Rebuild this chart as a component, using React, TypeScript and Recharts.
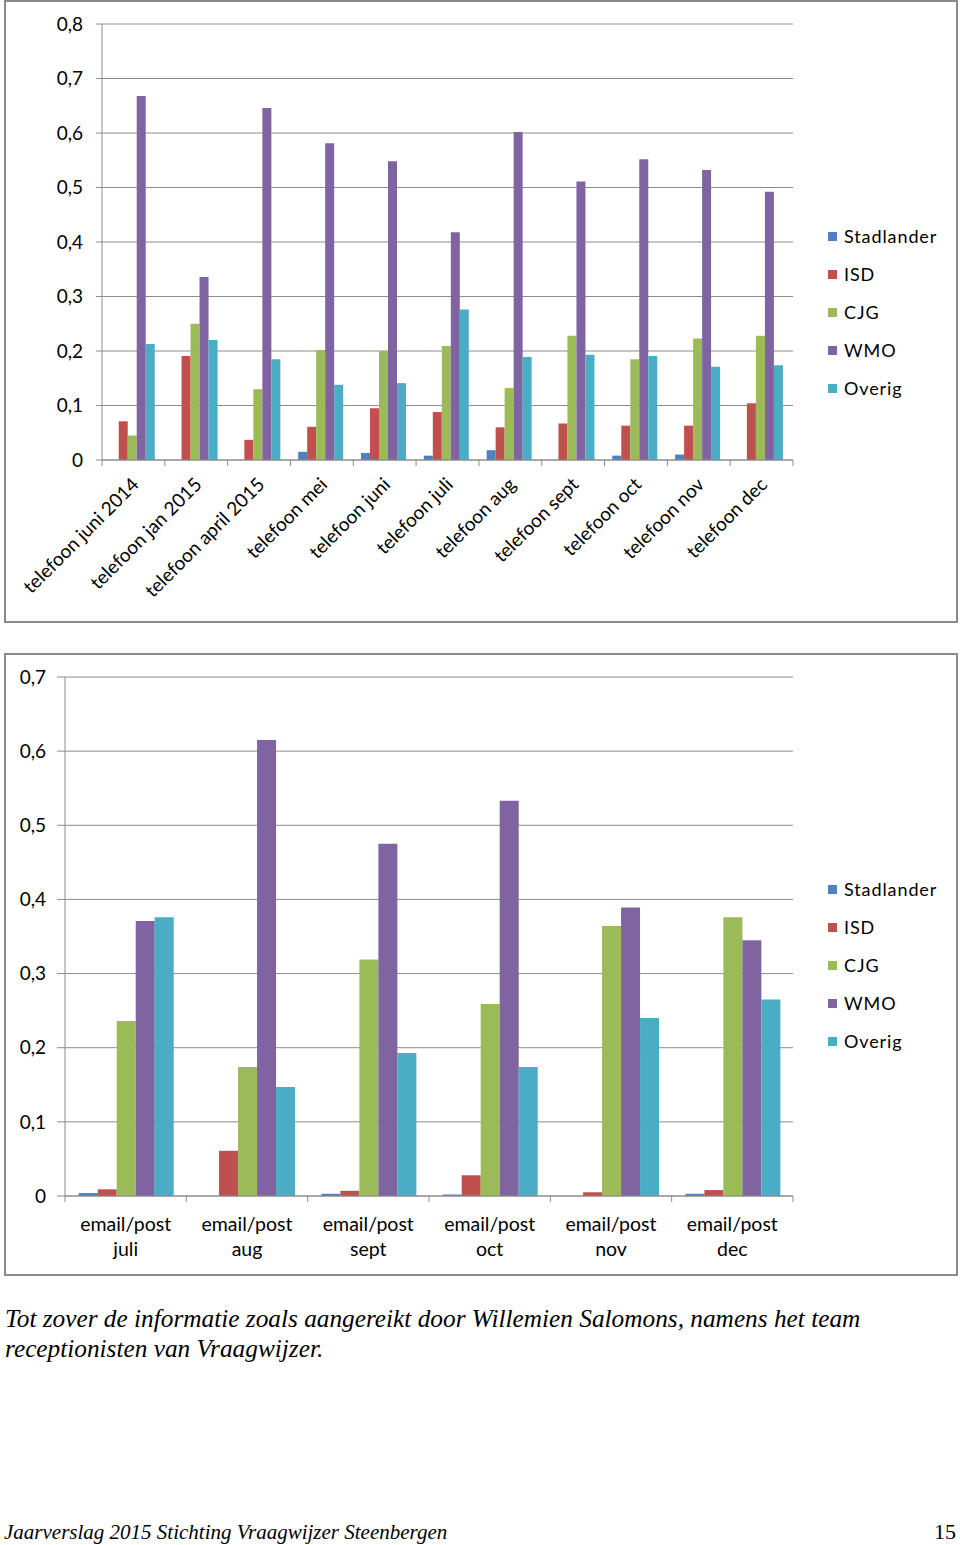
import React from "react";
import { BarChart, Bar, XAxis, YAxis, CartesianGrid, Legend } from "recharts";

const phoneCats = [
  "telefoon juni 2014", "telefoon jan 2015", "telefoon april 2015", "telefoon mei",
  "telefoon juni", "telefoon juli", "telefoon aug", "telefoon sept",
  "telefoon oct", "telefoon nov", "telefoon dec",
];
const phoneStadlander = [0, 0, 0, 0.015, 0.013, 0.008, 0.018, 0, 0.008, 0.01, 0];
const phoneISD = [0.071, 0.191, 0.037, 0.061, 0.095, 0.088, 0.06, 0.067, 0.063, 0.063, 0.104];
const phoneCJG = [0.045, 0.25, 0.13, 0.202, 0.2, 0.209, 0.132, 0.228, 0.185, 0.223, 0.228];
const phoneWMO = [0.668, 0.336, 0.646, 0.581, 0.548, 0.418, 0.602, 0.511, 0.552, 0.532, 0.492];
const phoneOverig = [0.213, 0.22, 0.185, 0.138, 0.141, 0.276, 0.189, 0.193, 0.191, 0.171, 0.174];

const mailCats = [
  "email/post juli", "email/post aug", "email/post sept",
  "email/post oct", "email/post nov", "email/post dec",
];
const mailStadlander = [0.004, 0, 0.003, 0.002, 0, 0.003];
const mailISD = [0.009, 0.061, 0.007, 0.028, 0.005, 0.008];
const mailCJG = [0.236, 0.174, 0.319, 0.259, 0.364, 0.376];
const mailWMO = [0.371, 0.615, 0.475, 0.533, 0.389, 0.345];
const mailOverig = [0.376, 0.147, 0.193, 0.174, 0.24, 0.265];

const phoneTicks = [0, 0.1, 0.2, 0.3, 0.4, 0.5, 0.6, 0.7, 0.8];
const mailTicks = [0, 0.1, 0.2, 0.3, 0.4, 0.5, 0.6, 0.7];

const series = [
  { key: "Stadlander", color: "#4F81BD" },
  { key: "ISD", color: "#C0504D" },
  { key: "CJG", color: "#9BBB59" },
  { key: "WMO", color: "#8064A2" },
  { key: "Overig", color: "#4BACC6" },
];

const phoneData = phoneCats.map((c, i) => ({
  cat: c,
  Stadlander: phoneStadlander[i],
  ISD: phoneISD[i],
  CJG: phoneCJG[i],
  WMO: phoneWMO[i],
  Overig: phoneOverig[i],
}));

const mailData = mailCats.map((c, i) => ({
  cat: c,
  Stadlander: mailStadlander[i],
  ISD: mailISD[i],
  CJG: mailCJG[i],
  WMO: mailWMO[i],
  Overig: mailOverig[i],
}));

const GRID = "#8c8c8c";
const FONT = "Lato, 'Open Sans', sans-serif";

const fmtTick = (v: number) => (v === 0 ? "0" : v.toFixed(1).replace(".", ","));

// legend in series order (recharts sorts by name otherwise)
const LegendList = ({ payload }: any) => {
  const items = series.map((s) => (payload || []).find((p: any) => p.value === s.key) || { value: s.key, color: s.color });
  return (
    <div style={{ fontFamily: FONT, fontSize: 18, color: "#000" }}>
      {items.map((p: any) => (
        <div key={p.value} style={{ height: 38, display: "flex", alignItems: "center" }}>
          <span style={{ display: "inline-block", width: 9, height: 9, background: p.color, marginRight: 7 }} />
          <span style={{ letterSpacing: 0.9 }}>{p.value}</span>
        </div>
      ))}
    </div>
  );
};

// Excel-style tick marks sit between categories: payload.offset is half the band
const EdgeMarks = ({ x, y, payload, index, visibleTicksCount }: any) => {
  const off = payload.offset || 0;
  return (
    <>
      <line x1={x - off} x2={x - off} y1={y - 6} y2={y} stroke={GRID} />
      {index === visibleTicksCount - 1 && <line x1={x + off} x2={x + off} y1={y - 6} y2={y} stroke={GRID} />}
    </>
  );
};

const SlantTick = (props: any) => {
  const { x, y, payload } = props;
  return (
    <g>
      <EdgeMarks {...props} />
      <g transform={`translate(${x + 2},${y + 15})`}>
        <text textAnchor="end" transform="rotate(-45)" dy="0.35em" fontSize={19} fontFamily={FONT} fill="#000">
          {payload.value}
        </text>
      </g>
    </g>
  );
};

const TwoLineTick = (props: any) => {
  const { x, y, payload } = props;
  const parts = String(payload.value).split(" ");
  return (
    <g>
      <EdgeMarks {...props} />
      <text x={x} y={y} textAnchor="middle" fontSize={19.5} fontFamily={FONT} fill="#000">
        <tspan x={x} dy={29}>{parts[0]}</tspan>
        <tspan x={x} dy={25}>{parts[1]}</tspan>
      </text>
    </g>
  );
};

const frame: React.CSSProperties = {
  position: "absolute", left: 4, width: 954, height: 623,
  border: "2px solid #8a8a8a", boxSizing: "border-box", background: "#fff",
};

function TopChart() {
  return (
    <BarChart width={954} height={619} data={phoneData} barCategoryGap="12.3%" barGap={0}
      margin={{ top: 22, right: 37, bottom: 11, left: 0 }}>
      <CartesianGrid stroke={GRID} vertical={false} />
      <XAxis dataKey="cat" interval={0} height={150} tickLine={false} tickSize={6} tickMargin={0}
        axisLine={{ stroke: GRID }} tick={<SlantTick />} />
      <YAxis domain={[0, 0.8]} ticks={phoneTicks} tickFormatter={fmtTick} width={96} tickSize={6} tickMargin={13}
        axisLine={{ stroke: GRID }} tickLine={{ stroke: GRID }}
        tick={{ fill: "#000", fontSize: 19, fontFamily: FONT }} />
      <Legend layout="horizontal" verticalAlign="middle" align="right" content={<LegendList />}
        wrapperStyle={{ left: 822, top: 215, width: 130 }} />
      {series.map((s) => (
        <Bar key={s.key} dataKey={s.key} fill={s.color} isAnimationActive={false} />
      ))}
    </BarChart>
  );
}

function BottomChart() {
  return (
    <BarChart width={954} height={619} data={mailData} barCategoryGap="11.3%" barGap={0}
      margin={{ top: 22, right: 37, bottom: 18, left: 0 }}>
      <CartesianGrid stroke={GRID} vertical={false} />
      <XAxis dataKey="cat" interval={0} height={60} tickLine={false} tickSize={6} tickMargin={0}
        axisLine={{ stroke: GRID }} tick={<TwoLineTick />} />
      <YAxis domain={[0, 0.7]} ticks={mailTicks} tickFormatter={fmtTick} width={59} tickSize={8} tickMargin={11}
        axisLine={{ stroke: GRID }} tickLine={{ stroke: GRID }}
        tick={{ fill: "#000", fontSize: 19, fontFamily: FONT }} />
      <Legend layout="horizontal" verticalAlign="middle" align="right" content={<LegendList />}
        wrapperStyle={{ left: 822, top: 215, width: 130 }} />
      {series.map((s) => (
        <Bar key={s.key} dataKey={s.key} fill={s.color} isAnimationActive={false} />
      ))}
    </BarChart>
  );
}

export default function App() {
  const serif = "'Liberation Serif', 'Times New Roman', serif";
  return (
    <div style={{ position: "absolute", left: 0, top: 0, width: 960, height: 1545, background: "#fff" }}>
      <div style={{ ...frame, top: 0 }}>
        <TopChart />
      </div>
      <div style={{ ...frame, top: 653 }}>
        <BottomChart />
      </div>
      <div style={{ position: "absolute", left: 5, top: 1303, width: 950, fontFamily: serif, fontStyle: "italic",
        fontSize: 25.3, lineHeight: "30px", color: "#000", whiteSpace: "nowrap" }}>
        Tot zover de informatie zoals aangereikt door Willemien Salomons, namens het team
        <br />
        receptionisten van Vraagwijzer.
      </div>
      <div style={{ position: "absolute", left: 4, top: 1520, fontFamily: serif, fontStyle: "italic",
        fontSize: 21, color: "#000" }}>
        Jaarverslag 2015 Stichting Vraagwijzer Steenbergen
      </div>
      <div style={{ position: "absolute", right: 4, top: 1519, fontFamily: serif, fontSize: 22, color: "#000" }}>
        15
      </div>
    </div>
  );
}
